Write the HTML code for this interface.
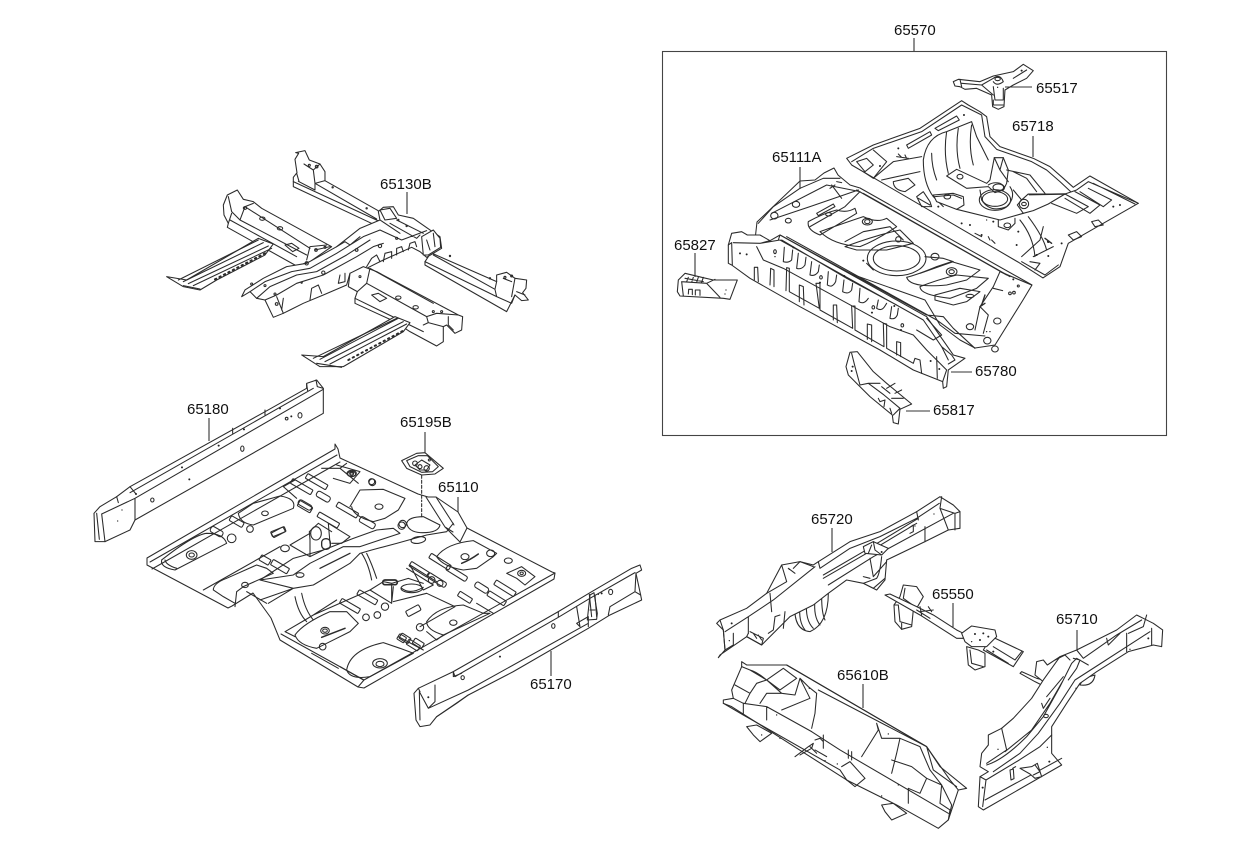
<!DOCTYPE html>
<html><head><meta charset="utf-8"><style>
html,body{margin:0;padding:0;background:#fff}
svg{display:block;filter:blur(.3px)}
text{font-family:"Liberation Sans",Arial,sans-serif;font-size:15px;fill:#111}
.d{fill:none;stroke:#2b2b2b;stroke-width:3.2;stroke-linejoin:round;stroke-linecap:round}
.d .w{fill:#fff}
.d .k{fill:#222;stroke:none}
.l{stroke:#333;stroke-width:1.1;fill:none}
</style></head><body>
<svg width="1240" height="848" viewBox="0 0 1240 848" xmlns="http://www.w3.org/2000/svg">
<rect width="1240" height="848" fill="#fff"/>

<!-- 65130B -->
<g class="d" transform="translate(150,140) scale(.3333)">
<path class="w" d="M430 140L430 112L441 98L435 58L446 40L437 38L465 32L478 60L510 72L525 95L525 122L690 215L690 262Z"/>
<path d="M445 124L495 150L495 130L525 122M490 90L495 130M495 130L680 237M462 72L490 90L510 72M430 125L690 245M440 100L447 124"/>
<circle cx="478" cy="76" r="3"/><circle cx="500" cy="80" r="4"/><circle cx="548" cy="142" r="2"/><circle cx="650" cy="205" r="2"/>
<path class="w" d="M232 165L262 150L280 178L310 185L335 205L545 320L480 365L440 378L232 262L235 250L222 225L220 195Z"/>
<path d="M235 170L245 215L270 240L285 200L310 190M285 200L480 325M245 220L235 250M240 240L440 350M270 240L470 345M470 360L480 320L530 315M495 330L540 320"/>
<ellipse cx="285" cy="204" rx="5" ry="4"/><ellipse cx="337" cy="236" rx="8" ry="5"/><ellipse cx="390" cy="265" rx="8" ry="5"/>
<path d="M405 315L425 310L447 325L428 335Z"/><circle cx="498" cy="330" r="4"/><circle cx="525" cy="322" r="3"/>
<path class="w" d="M50 410L110 420L325 295L370 312L345 345L200 420L150 450L100 440Z"/>
<path d="M100 425L340 308M115 431L355 318M130 437L365 325M85 420L325 300M100 437L150 447"/>
<path d="M195 418L345 340" stroke-width="6" stroke-dasharray="4 11"/>
<path class="w" d="M835 335L1040 425L1040 405L1070 397L1095 415L1130 420L1128 445L1118 458L1135 480L1115 482L1095 465L1070 515L825 375L825 365L835 350Z"/>
<path d="M850 345L1035 448L1040 470L1085 490L1095 465M1040 425L1035 448M825 365L1040 470M1095 415L1085 470M1060 415L1085 425M1100 455L1125 465"/>
<circle cx="1065" cy="412" r="3"/><circle cx="1085" cy="408" r="3"/><circle cx="1020" cy="415" r="2"/><circle cx="900" cy="348" r="2"/>
<path class="w" d="M275 470L285 450L340 415L410 380L470 370L560 320L630 265L690 240L685 215L700 202L730 200L745 225L790 235L840 270L870 290L875 325L830 352L810 335L785 322L700 360L650 385L600 400L590 435L520 465L460 490L420 510L400 520L370 532L345 480L320 475L300 455Z"/>
<path d="M300 455L345 425L425 395L480 385L560 340L640 290L690 270L755 300L830 272M320 475L360 440L440 405L500 395L590 345L660 300M345 480L380 465L440 430L520 405L620 350L670 320L700 310M740 240L820 280M720 250L800 295L810 285M690 240L750 280M380 470L400 520M400 475L395 510M560 320L585 305L600 315L630 290"/>
<path d="M480 480L485 445L505 435L515 460M570 405L565 430L585 425L585 400M650 380L665 355L680 345L690 365M700 365L705 340L725 335L725 355M740 345L740 325L755 320L760 335M775 330L780 310L795 305L800 320"/>
<path d="M815 290L850 270L870 295L872 322L835 345L820 345Z" class="w"/><path d="M830 300L840 330M850 280L855 320"/>
<path d="M690 210L720 205L740 235L705 240Z" class="w"/>
<circle cx="745" cy="240" r="2"/><circle cx="770" cy="258" r="2"/><circle cx="740" cy="295" r="3"/><circle cx="690" cy="318" r="5"/><circle cx="620" cy="330" r="4"/><circle cx="470" cy="370" r="5"/>
<circle cx="345" cy="437" r="3"/><circle cx="375" cy="462" r="3"/><circle cx="305" cy="432" r="3"/><circle cx="455" cy="428" r="2"/><circle cx="380" cy="492" r="4"/><circle cx="520" cy="398" r="5"/>
<path class="w" d="M600 400L640 380L680 395L925 525L938 530L935 570L915 580L890 555L880 560L880 605L860 618L780 575L735 545L615 490L615 475L622 455L595 440Z"/>
<path d="M622 455L650 430L660 385M650 430L830 530L860 520L925 525M615 475L820 575M830 530L835 548L880 560M820 555L835 548M895 530L895 555L910 570M660 385L850 490"/>
<circle cx="630" cy="410" r="3"/><ellipse cx="745" cy="473" rx="8" ry="5"/><ellipse cx="797" cy="502" rx="8" ry="5"/><path d="M665 465L685 460L710 475L690 485Z"/><circle cx="850" cy="515" r="3"/><circle cx="875" cy="515" r="3"/>
<path class="w" d="M455 645L520 650L735 530L780 548L760 575L580 680L510 680Z"/>
<path d="M510 658L745 535M525 665L760 545M540 672L770 552M500 670L575 682M490 655L740 535"/>
<path d="M595 660L760 572" stroke-width="6" stroke-dasharray="4 11"/>
</g>
<path class="l" d="M407 192V214"/>

<!-- 65180 -->
<g class="d" transform="translate(80,370) scale(.3333)">
<path class="w" d="M45 515L42 430L60 410L110 380L150 350L550 128L680 55L680 40L710 30L730 55L730 130L165 450L150 480L75 515Z"/>
<path d="M150 368L700 55M708 30L712 50L730 55M65 432L165 385L730 58M165 385L165 450M50 430L58 508M65 432L75 515M150 350L168 372M110 380L115 398M458 175L458 190M555 120L555 135M680 42L683 62"/>
<circle class="k" cx="168" cy="372" r="3"/><circle class="k" cx="306" cy="292" r="3"/><circle class="k" cx="416" cy="227" r="3"/><circle class="k" cx="492" cy="178" r="3"/><circle class="k" cx="600" cy="115" r="3"/><circle class="k" cx="328" cy="328" r="3"/><circle class="k" cx="126" cy="420" r="2"/><circle class="k" cx="113" cy="453" r="2"/>
<ellipse cx="217" cy="390" rx="5" ry="6"/><ellipse cx="487" cy="236" rx="5" ry="8"/><ellipse cx="620" cy="146" rx="4" ry="4"/><ellipse cx="660" cy="136" rx="6" ry="8"/><circle class="k" cx="634" cy="139" r="3"/>
</g>
<path class="l" d="M209 418V441"/>

<!-- 65110 floor outline -->
<g class="d" style="stroke-width:1.05">
<path class="w" d="M147 558L335 449L335 444L338 449L340 458L418 494L428 497L436 497L458 512L467 528L552 572L555 573L554 579L364 688L358 687L280 640L271 618L253 593L232 606L228 608L147 565Z"/>
<path d="M150 562L337 455M152 569L340 462M358 687L364 680L555 573M364 680L281 634"/>
<path d="M426 497L445 527L460 542L467 528M436 497L454 525M445 527L453 532"/>
</g>
<!-- floor rear-left -->
<g class="d" transform="translate(80,370) scale(.3333)">
<path d="M245 570Q240 592 285 600L440 520Q430 490 380 490Q340 495 245 570Z"/>
<path d="M255 570Q258 585 290 595M475 430Q480 460 520 465L640 415Q650 385 600 378L520 400Z"/>
<ellipse cx="335" cy="555" rx="16" ry="13"/><ellipse cx="335" cy="555" rx="8" ry="6"/><ellipse cx="555" cy="430" rx="10" ry="7"/><ellipse cx="815" cy="312" rx="12" ry="8"/><ellipse cx="815" cy="312" rx="5" ry="4"/><ellipse cx="495" cy="645" rx="10" ry="8"/>
<path d="M400 660Q400 640 440 625L530 585L560 595L580 610L490 650L470 665L465 710M400 660L430 680L465 700M500 665L560 700"/>
<rect x="-20" y="-9" width="40" height="18" rx="7" transform="translate(410 485) rotate(30)"/>
<rect x="-22" y="-8" width="44" height="16" rx="4" transform="translate(470 455) rotate(30)"/>
<rect x="-20" y="-8" width="40" height="16" rx="3" transform="translate(595 487) rotate(-28)"/>
<rect x="-22" y="-8" width="44" height="16" rx="7" transform="translate(675 405) rotate(30)"/>
<rect x="-22" y="-9" width="44" height="18" rx="7" transform="translate(730 380) rotate(30)"/>
<rect x="-35" y="-8" width="70" height="16" rx="3" transform="translate(665 350) rotate(30)"/>
<rect x="-35" y="-8" width="70" height="16" rx="3" transform="translate(710 335) rotate(30)"/>
<path d="M725 295L780 295L835 340M780 295L800 280M645 330L610 350L650 385"/>
<circle cx="455" cy="505" r="13"/><circle cx="510" cy="477" r="10"/><circle cx="875" cy="335" r="9"/>
<path d="M370 660L600 530"/>
</g>
<!-- floor centre -->
<g class="d" transform="translate(260,500) scale(.3333)">
<path d="M0 240L100 175L190 150L280 115L350 90L400 85L420 100L300 140L250 140L150 190L100 225L0 240"/>
<path d="M0 300L100 265L160 255L270 190L300 160L335 150L410 130L500 105L560 95L580 70M25 310L100 265M0 240L100 265"/>
<path d="M180 205L270 160" stroke-width="4"/>
<ellipse cx="120" cy="225" rx="12" ry="7"/><ellipse cx="475" cy="120" rx="22" ry="10" transform="rotate(-8 475 120)"/><circle cx="428" cy="72" r="11"/>
<path d="M105 290Q115 340 140 365M125 280Q135 330 160 360M305 160Q325 190 335 240M320 160Q335 190 350 235"/>
<path d="M75 395L135 360L160 345L230 300M75 395L105 410M160 345L330 270M155 460L235 505M400 305L500 280M500 280L585 320L480 380"/>
<path d="M105 405Q130 370 210 335L260 335L295 370L270 395L200 430L170 445Q115 435 105 405Z"/>
<ellipse cx="195" cy="392" rx="13" ry="10"/><ellipse cx="195" cy="392" rx="7" ry="5"/><path d="M185 412L255 385" stroke-width="4.5"/>
<circle cx="188" cy="440" r="10"/><circle cx="318" cy="352" r="10"/><circle cx="352" cy="345" r="10"/><circle cx="375" cy="320" r="11"/>
<!-- centre X -->
<path d="M330 270L395 310L395 250L370 245L330 270M395 310L400 260M450 195L490 270L520 255L440 205M450 195L530 245M395 250L445 235L490 250"/>
<rect x="-22" y="-7" width="44" height="14" rx="7" transform="translate(390 247)" stroke-width="5"/>
<ellipse cx="455" cy="265" rx="32" ry="13"/><path d="M425 265Q450 285 490 262"/>
<circle cx="515" cy="240" r="10"/><circle cx="540" cy="250" r="9"/>
<!-- rear X -->
<path d="M90 135L150 170L150 115M90 135L150 100M150 170L190 150M215 130L245 130M150 120L148 95L175 70M205 70L210 130M205 70L270 110L245 130M175 70L215 95"/>
<ellipse cx="168" cy="100" rx="16" ry="20"/><rect x="-13" y="-16" width="26" height="32" rx="12" transform="translate(198 132)" stroke-width="4"/>
<ellipse cx="75" cy="145" rx="13" ry="10"/>
<!-- slots -->
<rect x="-22" y="-9" width="44" height="18" rx="3" transform="translate(135 20) rotate(30)"/>
<rect x="-35" y="-8" width="70" height="16" rx="3" transform="translate(205 60) rotate(30)"/>
<rect x="-35" y="-8" width="70" height="16" rx="3" transform="translate(262 30) rotate(30)"/>
<rect x="-25" y="-9" width="50" height="18" rx="6" transform="translate(322 68) rotate(30)"/>
<rect x="-22" y="-8" width="44" height="16" rx="3" transform="translate(55 95) rotate(-22)"/>
<rect x="-16" y="-9" width="32" height="18" rx="3" transform="translate(15 180) rotate(30)"/>
<rect x="-28" y="-9" width="56" height="18" rx="3" transform="translate(60 200) rotate(30)"/>
<rect x="-32" y="-8" width="64" height="16" rx="3" transform="translate(270 318) rotate(30)"/>
<rect x="-32" y="-8" width="64" height="16" rx="3" transform="translate(322 292) rotate(30)"/>
<rect x="-22" y="-9" width="44" height="18" rx="4" transform="translate(460 332) rotate(-28)"/>
<rect x="-32" y="-8" width="64" height="16" rx="3" transform="translate(478 208) rotate(32)"/>
<rect x="-32" y="-8" width="64" height="16" rx="6" transform="translate(530 240) rotate(32)"/>
<rect x="-16" y="-9" width="32" height="18" rx="3" transform="translate(435 415) rotate(32)"/>
<rect x="-20" y="-9" width="40" height="18" rx="3" transform="translate(460 435) rotate(32)"/>
</g>
<!-- floor right -->
<g class="d" transform="translate(340,410) scale(.3333)">
<path d="M30 290L60 240L130 238L195 265L175 300L135 325L100 335Q40 320 35 290"/>
<ellipse cx="117" cy="290" rx="12" ry="8"/><ellipse cx="35" cy="190" rx="14" ry="9"/><ellipse cx="35" cy="190" rx="6" ry="5"/>
<path d="M-10 165L60 185L30 220L-20 205"/>
<circle cx="97" cy="217" r="10"/><circle cx="185" cy="347" r="11"/>
<path d="M200 340Q205 320 250 320L300 345Q295 370 240 368Q205 365 200 340Z"/>
<path d="M245 320L245 270M245 265L245 195" stroke-dasharray="9 6"/>
<path d="M290 440Q320 400 400 392L470 430L460 440L410 475L370 480Q310 470 290 440Z"/>
<ellipse cx="375" cy="440" rx="12" ry="9"/><path d="M365 460Q390 450 415 432" stroke-width="4.5"/>
<ellipse cx="452" cy="430" rx="12" ry="10"/><ellipse cx="505" cy="452" rx="12" ry="8"/>
<path d="M500 490L545 470L585 500L555 525L530 505Z"/><ellipse cx="545" cy="490" rx="12" ry="9"/><ellipse cx="545" cy="490" rx="5" ry="4"/>
<rect x="-35" y="-8" width="70" height="16" rx="3" transform="translate(300 455) rotate(32)"/>
<rect x="-35" y="-8" width="70" height="16" rx="5" transform="translate(350 490) rotate(32)"/>
<rect x="-22" y="-9" width="44" height="18" rx="7" transform="translate(425 533) rotate(32)"/>
<rect x="-35" y="-8" width="70" height="16" rx="3" transform="translate(495 535) rotate(32)"/>
<rect x="-22" y="-8" width="44" height="16" rx="3" transform="translate(375 562) rotate(32)"/>
<rect x="-30" y="-8" width="60" height="16" rx="3" transform="translate(470 565) rotate(32)"/>
<path d="M260 635Q290 590 370 585L430 610L450 610L310 675Q260 660 260 635Z"/>
<ellipse cx="340" cy="638" rx="11" ry="8"/><circle cx="240" cy="652" r="11"/>
<path d="M260 665L290 690L310 675M175 680L250 720M410 580L460 610"/>
<path d="M20 780Q30 720 130 698L180 715L220 730L90 800Q30 810 20 780Z"/>
<ellipse cx="120" cy="760" rx="22" ry="14"/><ellipse cx="120" cy="762" rx="12" ry="8"/>
<rect x="-12" y="-9" width="24" height="18" rx="3" transform="translate(185 685) rotate(32)"/>
<rect x="-16" y="-9" width="32" height="18" rx="3" transform="translate(235 700) rotate(32)"/>
<path d="M0 770L70 810"/>
</g>

<!-- 65195B -->
<g class="d" transform="translate(340,410) scale(.3333)">
<path class="w" d="M185 152L230 130L255 128L310 175L285 192L245 195L200 175Z"/>
<path d="M200 152L235 137L262 137L295 170L278 185L245 187L210 170ZM225 165L245 150L270 165L260 180L240 180Z"/>
<circle cx="225" cy="160" r="7"/><circle cx="260" cy="175" r="8"/><circle cx="240" cy="170" r="6"/><circle cx="268" cy="150" r="3"/>
</g>
<path class="l" d="M425 432V453"/>
<path class="l" d="M458 497V512"/>

<!-- 65170 -->
<g class="d" transform="translate(340,410) scale(.3333)">
<path class="w" d="M222 850L235 835L340 785L655 605L750 548L875 475L900 465L905 480L888 490L902 555L905 570L810 615L745 655L520 785L385 855L290 920L270 945L240 950L228 930Z"/>
<path d="M285 825L285 875L265 895L238 845L240 930M240 845L235 835M655 605L655 622M340 785L345 800L655 622L750 565L885 488M265 895L385 840L745 640M290 920L350 880L385 855M745 650L745 620L710 640L720 650M710 590L720 650M888 490L885 545L810 590L805 615M885 545L902 555M340 785L340 800L365 790"/>
<path d="M742 630L750 555L762 548L772 610L770 628ZM750 600L765 600"/>
<path d="M748 553L755 620M765 555L770 620"/>
<ellipse cx="640" cy="648" rx="5" ry="7"/><ellipse cx="812" cy="546" rx="6" ry="8"/><ellipse cx="368" cy="803" rx="5" ry="6"/>
<circle class="k" cx="480" cy="740" r="3"/><circle class="k" cx="265" cy="862" r="3"/><circle class="k" cx="785" cy="550" r="3"/><circle class="k" cx="775" cy="553" r="2"/>
</g>
<path class="l" d="M551 651V676"/>

<!-- box -->
<rect x="662.5" y="51.5" width="504" height="384" fill="none" stroke="#444" stroke-width="1.1"/>
<path class="l" d="M914 38V51"/>

<!-- 65718 -->
<g class="d" transform="translate(660,50) scale(.3333)">
<path class="w" d="M560 325L640 285L780 235L905 152L925 165L960 185L980 200L990 260L1020 290L1120 325L1170 350L1210 385L1240 412L1290 378L1435 460L1225 580L1200 650L1149 684L1074 636L575 345Z"/>
<path d="M575 335L640 295L785 245L905 165L965 195L975 260L1010 298L1115 335L1160 360L1200 395L1232 425M640 300L680 335L640 385L610 365M590 335L620 325L640 345L615 365Z"/>
<path d="M640 385L700 335L785 320M665 390L780 365M700 395L745 385L765 405L735 425Q700 420 700 395Z"/>
<path d="M740 285L810 245L815 255L745 295ZM825 235L890 198L898 210L835 242Z"/>
<path d="M790 330Q800 260 860 245L935 215L950 260L985 330M860 245Q850 310 865 370M895 235Q885 300 900 355M935 225Q925 290 940 345M815 310Q815 350 830 390M790 330Q790 400 820 440L850 470"/>
<path class="w" d="M860 378L890 358L980 400L990 390L1003 323L1030 323L1045 360L1040 400L1030 420L1005 428L985 410L920 415Z"/>
<path d="M1003 323L1020 360L1030 323M1020 360L1045 395M985 405Q1000 395 1020 400Q1040 410 1030 420"/>
<ellipse cx="900" cy="380" rx="9" ry="7"/><ellipse cx="1015" cy="412" rx="16" ry="10"/>
<path class="w" d="M820 435L880 430L910 440L912 465L890 478L830 455Z"/>
<path d="M825 440L880 435L905 445"/><ellipse cx="862" cy="440" rx="10" ry="7"/>
<path d="M890 478L1020 510L1090 490L1120 470L1215 432L1105 432L1085 450L1060 420M1040 360L1110 375L1155 430M1060 365L1100 385L1130 425"/>
<path d="M960 420L965 450Q990 490 1040 470Q1070 440 1050 410"/>
<ellipse cx="1005" cy="450" rx="47" ry="31"/><ellipse cx="1005" cy="447" rx="38" ry="22"/>
<path class="w" d="M1105 432L1215 432L1165 462L1120 482L1090 490L1072 465L1085 450Z"/>
<circle cx="1092" cy="462" r="14"/><ellipse cx="1092" cy="462" rx="7" ry="5"/><path d="M1108 434L1215 432" stroke-width="4.5"/>
<path d="M1015 510L1015 530L1045 540L1065 520L1065 505"/><ellipse cx="1042" cy="526" rx="10" ry="7"/>
<path d="M1080 510Q1120 560 1125 620M1105 500Q1150 560 1160 600"/>
<path d="M1215 432L1250 420L1285 395L1435 460M1300 400L1425 462M1215 432L1285 470L1250 490L1175 460M1245 425L1320 465L1290 490L1215 445M1285 415L1355 450L1330 470L1260 425M1295 515L1315 510L1330 525L1305 530ZM1225 555L1250 545L1265 560L1240 570Z"/>
<path d="M770 440L790 425L810 455L815 470L785 470ZM775 445L810 465"/>
<path d="M710 320L745 325M715 312L725 322M735 315L740 325"/>
<circle class="k" cx="660" cy="348" r="3"/><circle class="k" cx="715" cy="295" r="3"/><circle class="k" cx="912" cy="195" r="3"/><circle class="k" cx="835" cy="470" r="3"/>
<circle class="k" cx="905" cy="520" r="3"/><circle class="k" cx="930" cy="525" r="3"/><circle class="k" cx="965" cy="555" r="3"/><circle class="k" cx="1000" cy="515" r="3"/><circle class="k" cx="980" cy="510" r="2"/><circle class="k" cx="1075" cy="545" r="3"/><circle class="k" cx="1070" cy="585" r="3"/><circle class="k" cx="1165" cy="575" r="4"/><circle class="k" cx="1205" cy="580" r="3"/><circle class="k" cx="1360" cy="470" r="3"/><circle class="k" cx="1380" cy="465" r="3"/>
<path d="M945 550L965 560M985 560L990 570M995 570L1005 580"/>
</g>
<g class="d" transform="translate(660,220) scale(.3333)">
<path d="M1085 110L1140 60L1150 20M1120 110L1180 80M1110 125L1140 130L1125 150M1085 125L1155 165L1195 135"/>
<circle class="k" cx="1130" cy="105" r="3"/><circle class="k" cx="1165" cy="108" r="3"/>
<path d="M1155 55L1175 70" stroke-width="4"/>
</g>
<path class="l" d="M1033 136V157"/>

<!-- 65111A floor -->
<g class="d" style="stroke-width:1.05">
<path class="w" d="M757 222L800 181L815 180L824 173L834 168L838 175L850 185L860 188L1032 285L1023 300L995 345L975 348L960 340L940 325L925 300L755 240Z"/>
</g>
<g class="d" transform="translate(660,50) scale(.3333)">
<path d="M295 520L340 470L420 415L490 385L540 385M335 490L500 405L600 425M330 510L450 470L595 420M600 425L555 470L450 530M610 430L1050 680M590 420L1040 675"/>
<ellipse cx="343" cy="497" rx="11" ry="10"/><ellipse cx="408" cy="463" rx="11" ry="9"/><ellipse cx="385" cy="512" rx="9" ry="7"/><ellipse cx="506" cy="493" rx="9" ry="5"/>
<path d="M470 490L520 462L525 470L475 497ZM510 415L525 405M530 395L545 398M515 405L545 445"/>
<path d="M445 515Q490 490 530 480Q560 490 585 475L590 490Q540 520 480 555Q440 540 445 515ZM480 545Q550 520 610 500Q650 520 680 505L710 530Q650 570 600 590Q520 585 480 545ZM555 590Q650 555 720 540L760 580Q720 590 680 600L590 600Z"/>
<ellipse cx="622" cy="515" rx="15" ry="10"/><ellipse cx="622" cy="515" rx="8" ry="6"/>
</g>
<g class="d" transform="translate(660,220) scale(.3333)">
<path d="M555 65L610 35L690 20L730 60M640 150L620 130"/>
<ellipse cx="710" cy="115" rx="88" ry="52"/><ellipse cx="710" cy="115" rx="70" ry="38"/>
<path d="M795 110L850 115L880 125L780 160M740 172Q770 165 830 140L875 125L960 150L920 180L860 195Q750 205 740 172ZM780 200Q830 180 890 165L985 175L950 205L870 235Q780 225 780 200ZM825 225L900 205L960 215L920 245L880 255L825 240Z"/>
<ellipse cx="875" cy="155" rx="16" ry="12"/><ellipse cx="875" cy="155" rx="8" ry="6"/><ellipse cx="825" cy="110" rx="12" ry="10"/><circle cx="715" cy="58" r="8"/>
<path d="M360 45L800 285L850 290L880 325L945 385M380 50L830 300L885 340L975 348M1020 155L1000 200L960 260L945 330M1000 205L1028 212M1020 155L1115 195M960 260L985 285L970 340"/>
<path d="M975 250L960 260M975 225L965 255" stroke-width="4"/>
<ellipse cx="1012" cy="303" rx="11" ry="9"/><ellipse cx="930" cy="320" rx="11" ry="9"/><ellipse cx="1005" cy="387" rx="10" ry="9"/><ellipse cx="982" cy="362" rx="11" ry="10"/><ellipse cx="930" cy="228" rx="12" ry="5"/>
<circle cx="1050" cy="220" r="4"/><circle cx="1062" cy="218" r="4"/><circle cx="1075" cy="198" r="3"/><circle class="k" cx="1060" cy="178" r="3"/><circle class="k" cx="980" cy="335" r="2"/><circle class="k" cx="990" cy="335" r="2"/><circle class="k" cx="610" cy="122" r="3"/>
</g>

<!-- 65780 -->
<g class="d" transform="translate(660,220) scale(.3333)">
<path class="w" d="M215 40L245 35L262 45L300 45L330 62L360 45L800 290L880 405L915 415L865 450L860 500L850 505L848 485L760 450L660 390L420 260L270 175L215 135L205 130L205 75Z"/>
<path d="M220 68L300 70L360 60L790 300L845 380L865 420M360 45L355 60M215 68L205 75M215 68L217 135M300 70L330 62M290 80L310 120L370 145L690 320L760 345L800 390L860 450M770 330L820 360L845 345L800 295M845 380L875 405L885 420L865 432M830 410L832 475M860 450L848 485M365 60L560 175L710 255"/>
<path d="M370 125L373 82M370 125Q385 130 395 120L398 90M410 145L415 100M410 145Q425 150 435 135L438 112M450 165L455 125M450 165Q465 170 475 155L478 135M502 195L505 155M502 195Q517 205 527 185L530 165M548 215L552 180M548 215Q565 225 575 210L578 190M597 245L600 205M597 245Q612 255 625 235M650 265L655 240M650 265Q665 275 675 258L680 250M690 295L695 260M690 295Q705 300 712 285L715 265"/>
<path d="M283 180L283 142L293 142L295 185M330 195L332 145L342 150L342 200M378 212L380 143L388 145L388 215L478 265L468 190L480 190L480 270L578 325L575 258L585 258L585 330L672 380L670 310L680 312L680 385L760 430L765 415L780 420L785 460M418 245L418 195L430 200L432 255M520 300L520 255L530 255L532 308M622 358L622 312L635 315L635 365M710 405L710 365L722 368L722 410"/>
<ellipse cx="345" cy="95" rx="4" ry="6"/><ellipse cx="483" cy="172" rx="4" ry="5"/><ellipse cx="640" cy="262" rx="4" ry="5"/><ellipse cx="727" cy="316" rx="4" ry="5"/>
<circle class="k" cx="240" cy="100" r="3"/><circle class="k" cx="260" cy="103" r="3"/><circle class="k" cx="345" cy="110" r="2"/><circle class="k" cx="400" cy="82" r="3"/><circle class="k" cx="480" cy="188" r="3"/><circle class="k" cx="553" cy="168" r="3"/><circle class="k" cx="636" cy="278" r="3"/><circle class="k" cx="703" cy="258" r="3"/><circle class="k" cx="723" cy="330" r="3"/><circle class="k" cx="812" cy="423" r="3"/><circle class="k" cx="838" cy="447" r="3"/>
</g>
<path class="l" d="M951 372H972"/>

<!-- 65827 -->
<g class="d" transform="translate(660,220) scale(.3333)">
<path class="w" d="M55 180L75 160L125 172L160 180L232 180L210 238L190 235L60 228L52 215Z"/>
<path d="M65 185L70 228M65 185L140 190L180 232M75 175L130 185M85 172L80 185M100 172L95 187M115 172L110 187M130 172L125 187M140 190L165 178M85 222L86 208L97 208L97 224M106 225L106 210L120 210L120 226"/>
<circle class="k" cx="198" cy="210" r="2"/><circle class="k" cx="195" cy="222" r="2"/>
</g>
<path class="l" d="M695 253V277"/>

<!-- 65817 -->
<g class="d" transform="translate(660,220) scale(.3333)">
<path class="w" d="M558 440L570 397L592 395L640 455L680 490L755 552L720 568L715 612L700 608L697 585L630 530L590 490L565 465Z"/>
<path d="M575 400L585 440L600 495L625 490L660 490M625 490L672 525L720 565M665 500L690 520M680 505L705 490M705 520L725 510M695 535L730 535M655 535L660 545L675 540L672 560M690 565L695 580M700 585L720 565"/>
<circle class="k" cx="578" cy="440" r="3"/><circle class="k" cx="575" cy="453" r="3"/>
</g>
<path class="l" d="M906 411H930"/>

<!-- 65517 -->
<g class="d" transform="translate(660,50) scale(.3333)">
<path class="w" d="M880 95L895 88L960 95L1000 78L1060 65L1090 43L1120 62L1100 85L1060 105L1035 120L1032 170L1015 178L998 170L995 135L950 115L915 118L900 110L885 108Z"/>
<path d="M900 88L905 110M905 100L965 105L1000 85M965 105L1000 135M1000 110L1005 150L1030 150M1030 115L1030 150M1000 150L1000 165L1030 165M1060 85L1100 60M1000 85Q1020 70 1030 95Q1010 110 1000 95"/>
<ellipse cx="1013" cy="87" rx="8" ry="5"/><circle class="k" cx="1085" cy="62" r="3"/><circle class="k" cx="1013" cy="112" r="2"/>
</g>
<path class="l" d="M1005 87H1032"/>
<path class="l" d="M800 167V189"/>

<!-- 65720 -->
<g class="d" transform="translate(700,490) scale(.3333)">
<path class="w" d="M285 345Q280 420 330 425Q385 400 385 310Z"/>
<path d="M300 345Q295 395 315 420M320 335Q315 390 340 415M345 330Q340 380 360 405M365 320Q365 370 375 390"/>
<path class="w" d="M50 400L60 390L140 355L200 310L245 225L300 215L340 225L355 215L450 155L540 125L650 65L720 20L760 45L780 65L780 115L745 120L675 155L560 210L555 270L530 300L490 280L440 270L385 310L340 345L270 380L240 410L210 440L185 465L140 440L60 495L55 503L75 480L70 420Z"/>
<path d="M75 425L145 380L220 330L345 230M145 380L145 430M100 430L100 465L75 480M60 390L70 420M70 420L75 480M370 265L500 190L650 100M370 255L490 185L655 85M385 285L520 200L760 70M355 215L360 235L450 175L540 140L650 85L718 40M650 65L655 90M725 20L720 55L765 70L765 120M720 55L745 120M780 65L765 70M675 110L675 155M625 115L640 105L640 125L630 130"/>
<path d="M490 170L520 155L565 175L545 195L495 190Z" class="w"/><path d="M520 155L525 180L545 195M505 190L515 165"/>
<path d="M510 205L520 260L560 215M545 200Q540 250 530 265L490 280L520 295L555 265M490 260L510 265"/>
<path d="M210 310L215 365M245 225L260 275L200 310M280 235L300 215L340 230M265 235L285 250M145 430L140 440L185 465L190 445L150 425M160 430L170 445M175 435L185 450"/>
<path d="M240 375L225 380L220 420L205 430M255 365L250 415"/>
<circle class="k" cx="95" cy="400" r="3"/><circle class="k" cx="88" cy="452" r="2"/><circle class="k" cx="268" cy="238" r="2"/><circle class="k" cx="545" cy="186" r="3"/><circle class="k" cx="702" cy="72" r="2"/><circle class="k" cx="645" cy="108" r="2"/>
</g>
<path class="l" d="M832 528V552"/>

<!-- 65550 -->
<g class="d" transform="translate(700,490) scale(.3333)">
<path class="w" d="M610 285L650 290L670 320L650 355L640 360L635 410L605 418L585 395L582 345L600 320Z"/>
<path d="M615 295L610 325L645 350M595 345L600 395L635 405M605 400L605 418M582 345L595 345"/>
<path class="w" d="M555 315L570 312L650 350L700 375L770 420L790 430L790 445L770 445L660 375Z"/>
<path d="M660 350L665 375M685 350L695 365M650 360L690 385M660 365L700 360"/>
<path class="w" d="M800 470L835 480L855 490L855 530L825 540L805 525Z"/><path d="M810 480L815 520L850 530"/>
<path class="w" d="M875 440L970 485L940 530L850 480Z"/><path d="M860 480L925 520M880 470L945 510L965 485"/>
<path class="w" d="M785 430L815 408L885 420L890 440L860 470L815 470L795 455Z"/>
<circle class="k" cx="825" cy="432" r="3"/><circle class="k" cx="850" cy="430" r="3"/><circle class="k" cx="840" cy="450" r="3"/><circle class="k" cx="865" cy="440" r="3"/><circle class="k" cx="815" cy="455" r="2"/><circle class="k" cx="880" cy="485" r="3"/>
</g>
<path class="l" d="M953 603V627"/>

<!-- 65610B -->
<g class="d" transform="translate(700,490) scale(.3333)">
<path class="w" d="M140 710L170 705L215 730L180 755L160 735Z"/>
<path class="w" d="M545 945L580 940L620 970L575 990L555 965Z"/>
<path class="w" d="M125 515L140 525L200 525L260 525L680 770L720 830L800 895L775 900L745 990L715 1015L590 945L440 870L420 840L130 675L70 640L70 630L100 625L95 600L125 530Z"/>
<path d="M100 625L130 640L200 650L335 725L420 780L745 970M130 640L130 675M70 640L95 650L440 870M125 530L150 540L200 570L245 610M150 540Q170 545 200 570M105 585L150 610L135 640M150 610L170 580L200 570M200 570L240 600L290 565L250 535L200 570M180 640L200 610L245 610L285 615L300 565L330 625L245 660M300 565L325 590L350 610L345 670L335 715M200 650L200 690M355 600L680 770M260 525L680 770L750 870L775 900M680 770L700 840L770 890M530 700L535 720L485 800M530 700L545 745L600 745L590 790L575 850M600 745L660 770L690 840L725 885L720 940M575 810L635 830L680 865L660 910L625 895L625 940M680 865L725 885L755 945L745 990M725 885L720 940L750 960L745 990"/>
<path d="M370 735L370 775M345 750L360 745L370 755M445 780L445 805M455 785L455 810M425 830L450 815L495 865L465 890L440 870"/>
<path d="M285 800L325 770L340 760L335 775L300 795M330 770L350 790M345 780L380 800"/>
<circle class="k" cx="230" cy="675" r="2"/><circle class="k" cx="328" cy="595" r="2"/><circle class="k" cx="565" cy="732" r="2"/><circle class="k" cx="595" cy="885" r="2"/><circle class="k" cx="545" cy="918" r="2"/><circle class="k" cx="240" cy="745" r="2"/><circle class="k" cx="185" cy="735" r="2"/><circle class="k" cx="375" cy="812" r="2"/><circle class="k" cx="412" cy="822" r="2"/>
</g>
<path class="l" d="M863 684V708"/>

<!-- 65710 -->
<g class="d" transform="translate(960,590) scale(.3333)">
<path class="w" d="M360 285Q400 290 405 255L370 265Z"/>
<path class="w" d="M180 250L185 245L230 265L250 270L245 285L225 275Z"/>
<path class="w" d="M230 215L250 210L262 225L300 200L285 240L250 275L225 255Z"/>
<path class="w" d="M60 560L85 545L60 530L65 490L85 465L85 435L125 415L160 385L215 325L250 270L300 200L350 180L470 120L530 75L580 100L608 120L605 170L580 165L505 185L410 245L360 280L320 340L275 410L275 490L305 525L70 660L55 650Z"/>
<path d="M125 415L140 480L80 520M80 525Q130 510 200 440L250 380L300 290L335 220L350 205L385 225M100 545L180 490L235 430L300 340L345 270L415 225L500 170L570 125M135 485L215 420L270 340L310 270M60 560L78 570L178 510L240 470L275 435M78 570L68 650M75 630L305 505M560 75L550 110L505 130M350 180L370 205L470 135L545 90M500 130L500 185M575 115L575 165M270 325L250 355L245 340M260 320L310 260M340 205L360 210L350 235L325 270"/>
<path d="M440 145L445 165L480 130M285 210L315 195L330 210"/>
<path d="M150 540L153 570L162 566L160 537ZM158 535L167 530" class="w"/>
<path class="w" d="M180 535L215 530L232 520L245 560L225 565L210 552Z"/>
<path d="M225 525L240 545L220 555"/>
<circle class="k" cx="68" cy="593" r="3"/><circle class="k" cx="114" cy="478" r="2"/><circle class="k" cx="268" cy="515" r="3"/><circle class="k" cx="262" cy="472" r="2"/><circle class="k" cx="565" cy="145" r="3"/><circle class="k" cx="510" cy="178" r="2"/><circle class="k" cx="348" cy="295" r="2"/><ellipse cx="258" cy="378" rx="7" ry="5"/>
</g>
<path class="l" d="M1077 630V650"/>

<!-- labels -->
<text x="894" y="35">65570</text>
<text x="1036" y="93">65517</text>
<text x="1012" y="131">65718</text>
<text x="772" y="162">65111A</text>
<text x="674" y="250">65827</text>
<text x="975" y="376">65780</text>
<text x="933" y="415">65817</text>
<text x="380" y="189">65130B</text>
<text x="187" y="414">65180</text>
<text x="400" y="427">65195B</text>
<text x="438" y="492">65110</text>
<text x="530" y="689">65170</text>
<text x="811" y="524">65720</text>
<text x="932" y="599">65550</text>
<text x="1056" y="624">65710</text>
<text x="837" y="680">65610B</text>
</svg>
</body></html>
